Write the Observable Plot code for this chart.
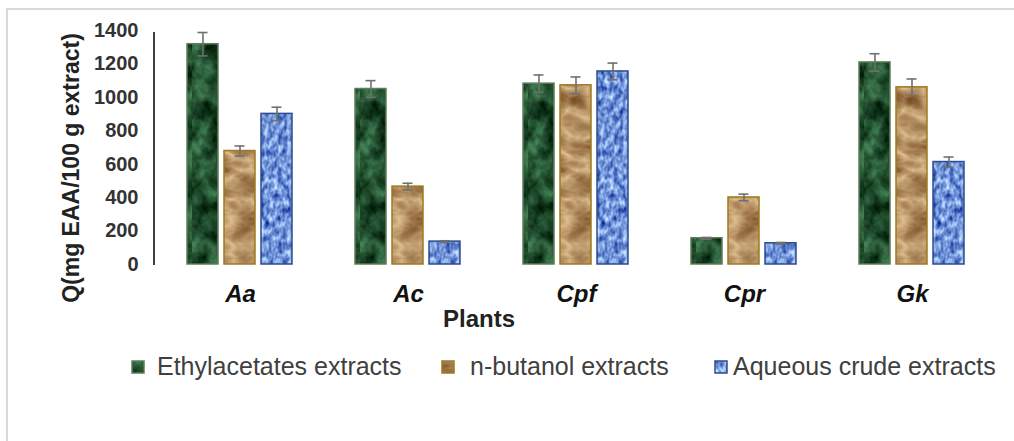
<!DOCTYPE html>
<html>
<head>
<meta charset="utf-8">
<script src="https://cdn.jsdelivr.net/npm/d3@7"></script>
<script src="https://cdn.jsdelivr.net/npm/@observablehq/plot@0.6"></script>
<style>
  html, body { margin: 0; padding: 0; background: #fff; overflow: hidden; }
  body { width: 1014px; height: 441px; position: relative; font-family: "Liberation Sans", Arial, sans-serif; }
  #frame { position: absolute; left: 6px; top: 8px; width: 1100px; height: 600px; border-left: 2px solid #d9d9d9; border-top: 2px solid #d9d9d9; pointer-events: none; }
  #chart { position: absolute; left: 0; top: 0; }
  .leg { position: absolute; top: 352px; font-size: 25px; color: #404040; line-height: 28px; white-space: nowrap; }
  .sw { position: absolute; top: 360px; width: 14px; height: 14px; }
</style>
</head>
<body>
<svg width="0" height="0" style="position:absolute">
  <defs>
    <filter id="fGreen" filterUnits="userSpaceOnUse" x="0" y="0" width="160" height="300" color-interpolation-filters="sRGB">
      <feTurbulence type="fractalNoise" baseFrequency="0.06 0.05" numOctaves="4" seed="7"/>
      <feColorMatrix type="matrix" values="0.5 0 0 0 -0.12  0.75 0 0 0 -0.07  0.58 0 0 0 -0.11  0 0 0 0 1"/>
    </filter>
    <filter id="fTan" filterUnits="userSpaceOnUse" x="0" y="0" width="160" height="300" color-interpolation-filters="sRGB">
      <feTurbulence type="turbulence" baseFrequency="0.025 0.045" numOctaves="3" seed="4"/>
      <feColorMatrix type="matrix" values="-0.55 0 0 0 0.88  -0.62 0 0 0 0.76  -0.58 0 0 0 0.57  0 0 0 0 1"/>
    </filter>
    <filter id="fBlue" filterUnits="userSpaceOnUse" x="0" y="0" width="160" height="300" color-interpolation-filters="sRGB">
      <feTurbulence type="fractalNoise" baseFrequency="0.22 0.14" numOctaves="2" seed="2"/>
      <feColorMatrix type="matrix" values="1.15 0 0 0 -0.14  1.1 0 0 0 0.02  0.7 0 0 0 0.49  0 0 0 0 1"/>
    </filter>
    <pattern id="pGreen" patternUnits="userSpaceOnUse" width="160" height="300">
      <rect width="160" height="300" filter="url(#fGreen)"/>
    </pattern>
    <pattern id="pTan" patternUnits="userSpaceOnUse" width="160" height="300">
      <rect width="160" height="300" filter="url(#fTan)"/>
    </pattern>
    <pattern id="pBlue" patternUnits="userSpaceOnUse" width="160" height="300">
      <rect width="160" height="300" filter="url(#fBlue)"/>
    </pattern>
  </defs>
</svg>
<div id="chart"></div>
<div id="legend"></div>
<div id="frame"></div>
<script>
// ---- data ----
const plants = ["Aa", "Ac", "Cpf", "Cpr", "Gk"];
const seriesNames = ["Ethylacetates extracts", "n-butanol extracts", "Aqueous crude extracts"];
const ethylacetate = [1318, 1050, 1082, 157, 1209];
const nbutanol     = [679, 466, 1072, 401, 1060];
const aqueous      = [901, 137, 1155, 127, 613];
const ethylacetateErr = [70, 50, 52, 5, 52];
const nbutanolErr     = [30, 20, 50, 20, 50];
const aqueousErr      = [40, 5, 50, 5, 30];
const yTicks = [0, 200, 400, 600, 800, 1000, 1200, 1400];
const yLabel = "Q(mg EAA/100 g extract)";
const xLabel = "Plants";

const fills = ["url(#pGreen)", "url(#pTan)", "url(#pBlue)"];
const strokes = ["#5f7d57", "#a07a1c", "#2e4c8c"];

const valuesBySeries = [ethylacetate, nbutanol, aqueous];
const errBySeries = [ethylacetateErr, nbutanolErr, aqueousErr];
const rows = [];
plants.forEach((p, i) => {
  seriesNames.forEach((s, j) => {
    rows.push({plant: p, series: s, value: valuesBySeries[j][i], err: errBySeries[j][i]});
  });
});

const font = "'Liberation Sans', Arial, sans-serif";

const chart = Plot.plot({
  width: 1014,
  height: 335,
  marginLeft: 155,
  marginRight: 18,
  marginTop: 30,
  marginBottom: 71,
  style: {fontFamily: font, background: "transparent", overflow: "visible"},
  fx: {domain: plants, paddingInner: 0.37, paddingOuter: 0.185, label: null},
  x: {domain: seriesNames, paddingInner: 0.16, paddingOuter: 0, axis: null},
  y: {domain: [0, 1400], label: null},
  color: {domain: seriesNames, range: fills},
  marks: [
    Plot.axisY({ticks: yTicks, tickSize: 0, tickPadding: 49, tickFormat: d => String(d),
      fontSize: 20, fontWeight: "bold", fill: "#333", label: null}),
    Plot.axisFx({anchor: "bottom", tickSize: 0, tickPadding: 20, fontSize: 24,
      fontWeight: "bold", fontStyle: "italic", fill: "#111", label: null}),
    Plot.barY(rows, {fx: "plant", x: "series", y: "value", fill: "series",
      stroke: d => strokes[seriesNames.indexOf(d.series)], strokeWidth: 1.5}),
    Plot.ruleX(rows, {fx: "plant", x: "series", y1: d => d.value - d.err, y2: d => d.value + d.err,
      stroke: "#707070", strokeWidth: 1.6}),
    Plot.tickY(rows, {fx: "plant", x: "series", y: d => d.value + d.err, stroke: "#707070",
      strokeWidth: 1.6, insetLeft: 10.5, insetRight: 10.5}),
    Plot.tickY(rows, {fx: "plant", x: "series", y: d => d.value - d.err, stroke: "#707070",
      strokeWidth: 1.6, insetLeft: 10.5, insetRight: 10.5})
  ]
});

document.getElementById("chart").appendChild(chart);

const svg = d3.select(chart);
const ys = chart.scale("y");
const y0 = ys.apply(0), y1 = ys.apply(1400);
svg.append("line")
  .attr("x1", 154).attr("x2", 154)
  .attr("y1", y0 + 1).attr("y2", y1 + 2)
  .attr("stroke", "#404040").attr("stroke-width", 2);

svg.append("text")
  .attr("transform", `translate(71,${(y0 + y1) / 2 + 21}) rotate(-90)`)
  .attr("text-anchor", "middle").attr("dy", "0.35em")
  .attr("font-family", font).attr("font-size", 23).attr("font-weight", "bold").attr("fill", "#222")
  .text(yLabel);

svg.append("text")
  .attr("x", 479).attr("y", 327)
  .attr("text-anchor", "middle")
  .attr("font-family", font).attr("font-size", 24).attr("font-weight", "bold").attr("fill", "#222")
  .text(xLabel);

// legend
const legend = d3.select("#legend");
const swX = [131, 441, 714];
const txX = [157, 470, 733];
seriesNames.forEach((s, j) => {
  const sw = legend.append("svg").attr("class", "sw").style("left", swX[j] + "px")
    .attr("width", 14).attr("height", 14);
  sw.append("rect").attr("x", 1).attr("y", 1).attr("width", 12).attr("height", 12)
    .attr("fill", fills[j]).attr("stroke", strokes[j]).attr("stroke-width", 1.5);
  legend.append("div").attr("class", "leg").style("left", txX[j] + "px").text(s);
});
</script>
</body>
</html>
